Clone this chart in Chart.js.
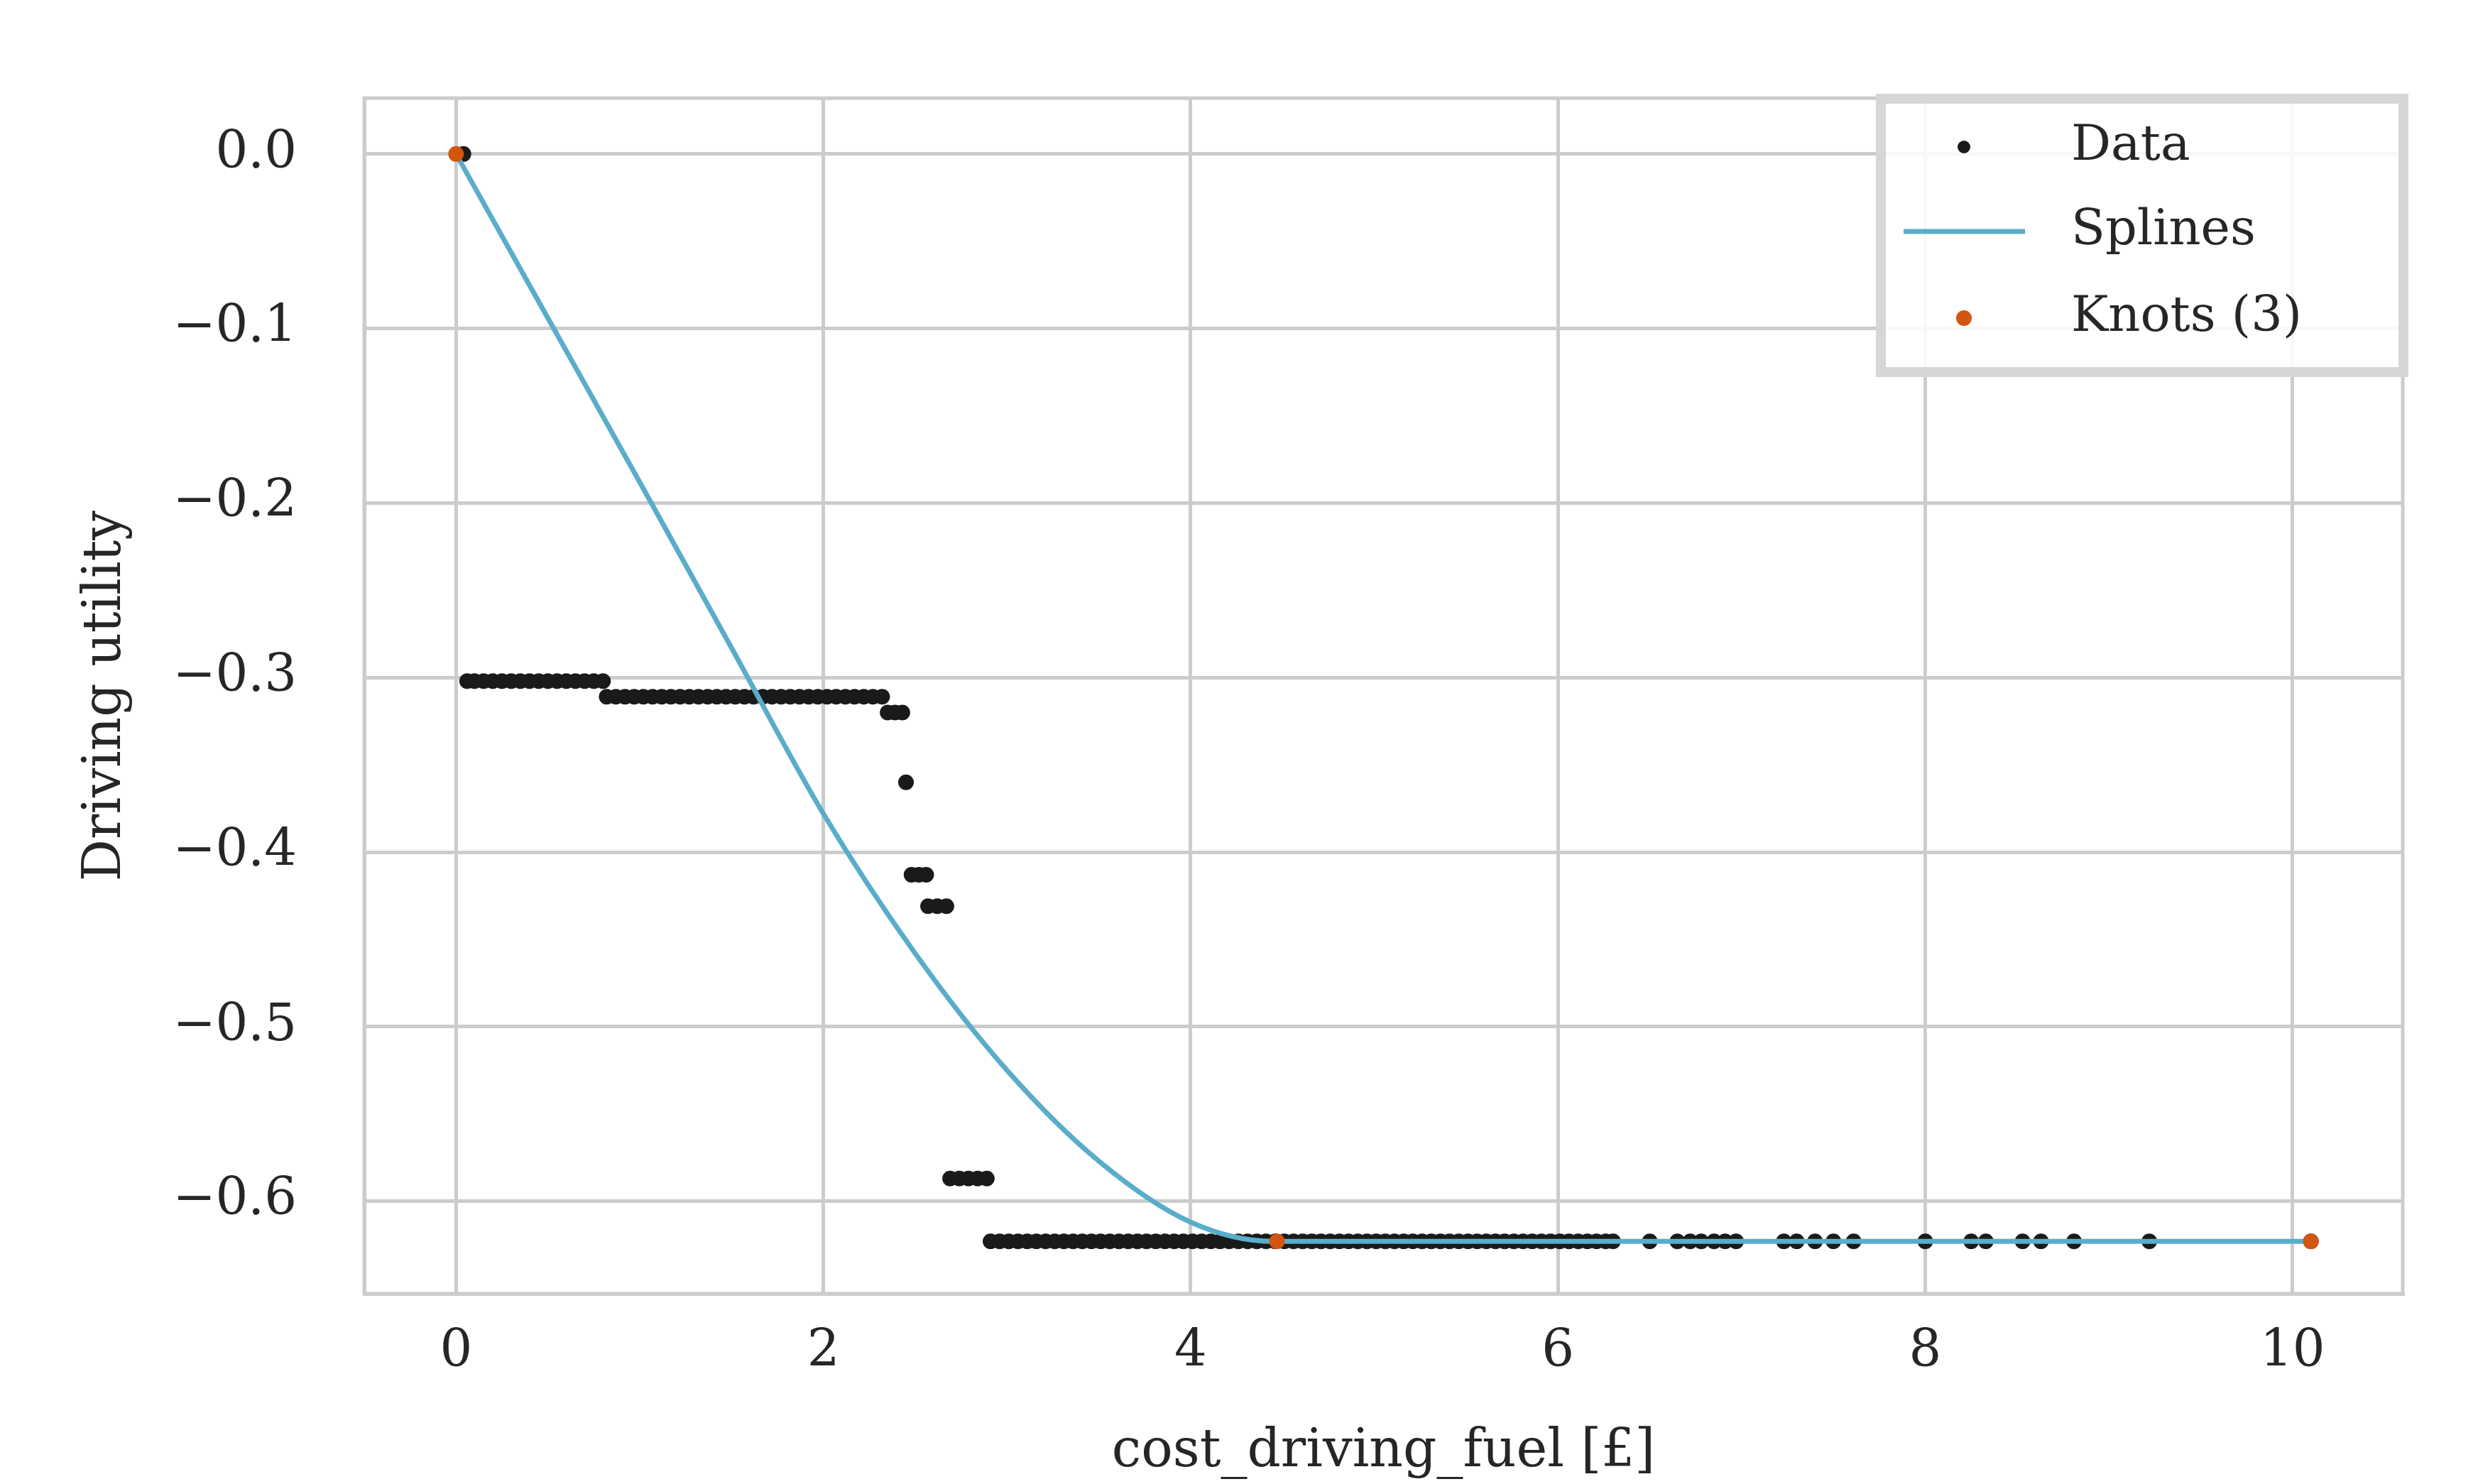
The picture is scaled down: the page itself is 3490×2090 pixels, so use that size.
<!DOCTYPE html>
<html>
<head>
<meta charset="utf-8">
<script src="https://cdn.jsdelivr.net/npm/chart.js@4"></script>
<style>
  body { margin: 0; background: #fff; }
  canvas { display: block; }
</style>
</head>
<body>
<canvas id="splineChart" width="3490" height="2090"></canvas>
<script>
// observed data, grouped by utility level
const dataLevels = [0, -0.302, -0.311, -0.320, -0.360, -0.413, -0.431, -0.587, -0.623];
const dataXs = [
  [0.04],
  [0.06, 0.1, 0.15, 0.2, 0.25, 0.3, 0.35, 0.4, 0.45, 0.5, 0.55, 0.6, 0.65, 0.7, 0.75, 0.8],
  [0.82, 0.87, 0.92, 0.97, 1.02, 1.07, 1.12, 1.17, 1.22, 1.27, 1.32, 1.37, 1.42, 1.47, 1.52, 1.57,
   1.62, 1.67, 1.72, 1.77, 1.82, 1.87, 1.92, 1.97, 2.02, 2.07, 2.12, 2.17, 2.22, 2.27, 2.32],
  [2.35, 2.39, 2.43],
  [2.45],
  [2.48, 2.52, 2.56],
  [2.57, 2.62, 2.67],
  [2.69, 2.74, 2.79, 2.84, 2.89],
  [2.91, 2.96, 3.01, 3.06, 3.11, 3.16, 3.21, 3.26, 3.31, 3.36, 3.41, 3.46, 3.51, 3.56, 3.61, 3.66,
   3.71, 3.76, 3.81, 3.86, 3.91, 3.96, 4.01, 4.06, 4.11, 4.16, 4.21, 4.26, 4.31, 4.36, 4.41, 4.46,
   4.51, 4.56, 4.61, 4.66, 4.71, 4.76, 4.81, 4.86, 4.91, 4.96, 5.01, 5.06, 5.11, 5.16, 5.21, 5.26,
   5.31, 5.36, 5.41, 5.46, 5.51, 5.56, 5.61, 5.66, 5.71, 5.76, 5.81, 5.86, 5.91, 5.96, 6.01, 6.06,
   6.11, 6.16, 6.21, 6.26, 6.3, 6.5, 6.65, 6.72, 6.78, 6.85, 6.91, 6.97, 7.23, 7.3, 7.4, 7.5, 7.61,
   8.0, 8.25, 8.33, 8.53, 8.63, 8.81, 9.22, 10.1]
];
const splineX = [0, 0.5, 1, 1.5, 2, 2.5, 3, 3.5, 4, 4.45, 10.1];
const splineY = [0, -0.094, -0.188, -0.283, -0.378, -0.458, -0.525, -0.577, -0.612, -0.623, -0.623];
const knotX = [0, 4.47, 10.1];
const knotY = [0, -0.623, -0.623];
const xTicks = [0, 2, 4, 6, 8, 10];
const yTicks = [0, -0.1, -0.2, -0.3, -0.4, -0.5, -0.6];

const textColor = '#262626';
const gridColor = '#cccccc';
const fontFamily = '"DejaVu Serif", "Liberation Serif", serif';
const splineColor = '#5aadca';
const knotColor = '#d2560f';

const dataPoints = [];
dataXs.forEach((xs, i) => xs.forEach(x => dataPoints.push({ x: x, y: dataLevels[i] })));

const frameAndLegend = {
  id: 'frameAndLegend',
  beforeDatasetsDraw(chart) {
    const a = chart.chartArea;
    const c = chart.ctx;
    c.save();
    c.strokeStyle = gridColor;
    c.lineWidth = 5;
    c.strokeRect(a.left, a.top, a.right - a.left, a.bottom - a.top);
    c.restore();
  },
  afterDraw(chart) {
    const c = chart.ctx;
    c.save();
    c.fillStyle = 'rgba(255,255,255,0.85)';
    c.fillRect(2649, 139, 736, 385);
    c.strokeStyle = '#d6d6d6';
    c.lineWidth = 14;
    c.strokeRect(2649, 139, 736, 385);
    c.font = '70px ' + fontFamily;
    c.fillStyle = textColor;
    c.textBaseline = 'middle';
    const rows = [207, 326, 448];
    c.fillText('Data', 2917, rows[0]);
    c.fillText('Splines', 2917, rows[1]);
    c.fillText('Knots (3)', 2917, rows[2]);
    c.fillStyle = '#1a1a1a';
    c.beginPath(); c.arc(2766, rows[0], 9, 0, Math.PI * 2); c.fill();
    c.strokeStyle = splineColor; c.lineWidth = 7;
    c.beginPath(); c.moveTo(2681, rows[1]); c.lineTo(2852, rows[1]); c.stroke();
    c.fillStyle = knotColor;
    c.beginPath(); c.arc(2766, rows[2], 11, 0, Math.PI * 2); c.fill();
    c.restore();
  }
};

const ctx = document.getElementById('splineChart').getContext('2d');

new Chart(ctx, {
  type: 'scatter',
  data: {
    datasets: [{
      label: 'Data',
      data: dataPoints,
      pointRadius: 11,
      pointBackgroundColor: '#1a1a1a',
      pointBorderWidth: 0,
      order: 3
    }, {
      label: 'Splines',
      data: splineX.map((x, i) => ({ x: x, y: splineY[i] })),
      showLine: true,
      cubicInterpolationMode: 'monotone',
      borderColor: splineColor,
      borderWidth: 7,
      pointRadius: 0,
      order: 2
    }, {
      label: 'Knots (3)',
      data: knotX.map((x, i) => ({ x: x, y: knotY[i] })),
      pointRadius: 11,
      pointBackgroundColor: knotColor,
      pointBorderWidth: 0,
      order: 1
    }]
  },
  options: {
    responsive: false,
    devicePixelRatio: 1,
    animation: false,
    layout: { padding: { top: 71, right: 106, left: 105, bottom: 0 } },
    plugins: {
      legend: { display: false },
      tooltip: { enabled: false }
    },
    scales: {
      x: {
        type: 'linear',
        min: -0.5,
        max: 10.6,
        afterFit: s => { s.height = 268; },
        afterBuildTicks: s => { s.ticks = xTicks.map(v => ({ value: v })); },
        ticks: {
          color: textColor,
          font: { family: fontFamily, size: 72 },
          padding: 40,
          maxRotation: 0
        },
        grid: { color: gridColor, lineWidth: 5, drawTicks: false },
        border: { color: gridColor, width: 5 },
        title: {
          display: true,
          text: 'cost_driving_fuel [£]',
          color: textColor,
          font: { family: fontFamily, size: 74 },
          padding: { top: 0, bottom: 0 }
        }
      },
      y: {
        type: 'linear',
        min: -0.653,
        max: 0.032,
        afterFit: s => { s.width = 408; },
        afterBuildTicks: s => { s.ticks = yTicks.map(v => ({ value: v })); },
        ticks: {
          color: textColor,
          font: { family: fontFamily, size: 72 },
          padding: 95,
          callback: v => (v < 0 ? '\u2212' + Math.abs(v).toFixed(1) : v.toFixed(1))
        },
        grid: { color: gridColor, lineWidth: 5, drawTicks: false },
        border: { color: gridColor, width: 5 },
        title: {
          display: true,
          text: 'Driving utility',
          color: textColor,
          font: { family: fontFamily, size: 74 },
          padding: { top: 0, bottom: 0 }
        }
      }
    }
  },
  plugins: [frameAndLegend]
});
</script>
</body>
</html>
